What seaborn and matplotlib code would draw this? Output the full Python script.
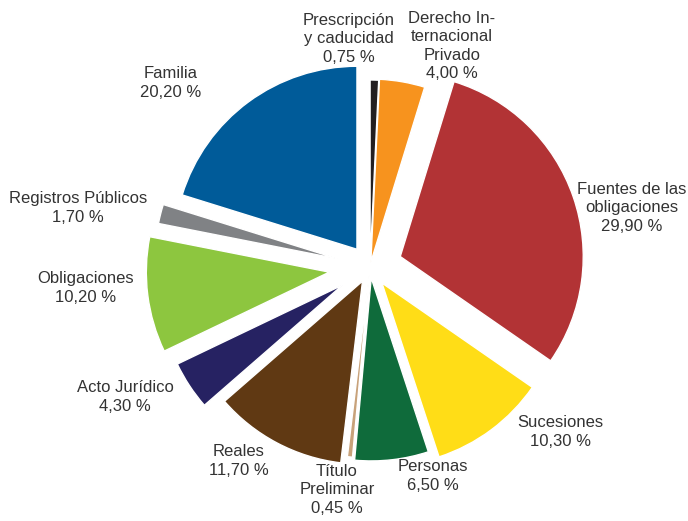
import numpy as np
import matplotlib
matplotlib.use("Agg")
import matplotlib.pyplot as plt
import seaborn as sns

# Data (percent of cases per topic)
categories = ["Prescripción\ny caducidad", "Derecho In-\nternacional\nPrivado",
              "Fuentes de las\nobligaciones", "Sucesiones", "Personas",
              "Título\nPreliminar", "Reales", "Acto Jurídico", "Obligaciones",
              "Registros Públicos", "Familia"]
values = [0.75, 4.00, 29.90, 10.30, 6.50, 0.45, 11.70, 4.30, 10.20, 1.70, 20.20]
value_labels = ["0,75 %", "4,00 %", "29,90 %", "10,30 %", "6,50 %", "0,45 %",
                "11,70 %", "4,30 %", "10,20 %", "1,70 %", "20,20 %"]

colors = ["#231f20", "#f7931e", "#b23335", "#ffdd17", "#0f6b3b", "#c8a27a",
          "#603913", "#262262", "#8dc63f", "#808285", "#005b99"]
# how far each slice is pulled out, in pixels
explode_px = [4, 5, 32, 20, 11, 8, 16, 33, 41, 33, 22]

# label anchor points in pixels of the 688x521 picture
label_px = [(349, 39), (452, 46), (632, 208), (560, 432), (433, 476),
            (337, 490), (239, 461), (125, 397), (86, 288), (78, 208), (171, 83)]

sns.set_theme(style="white")
plt.rcParams["font.family"] = ["Liberation Sans Narrow", "Liberation Sans", "DejaVu Sans"]

W, H = 688, 521
cx, cy, R = 370, 267, 183  # pie centre and radius in pixels

fig = plt.figure(figsize=(W / 100, H / 100), dpi=100)
ax = fig.add_axes([0, 0, 1, 1])

ax.pie(values, colors=colors, explode=[e / R for e in explode_px], startangle=90,
       counterclock=False, radius=1,
       wedgeprops=dict(edgecolor="white", linewidth=1.0))

def to_data(p):
    return (p[0] - cx) / R, (cy - p[1]) / R

for cat, lab, p in zip(categories, value_labels, label_px):
    x, y = to_data(p)
    ax.text(x, y, f"{cat}\n{lab}", ha="center", va="center", fontsize=12,
            color="#333333", linespacing=1.3)

ax.set_xlim(-cx / R, (W - cx) / R)
ax.set_ylim((cy - H) / R, cy / R)
ax.set_aspect("auto")
ax.axis("off")

fig.savefig("out.png", dpi=100)
